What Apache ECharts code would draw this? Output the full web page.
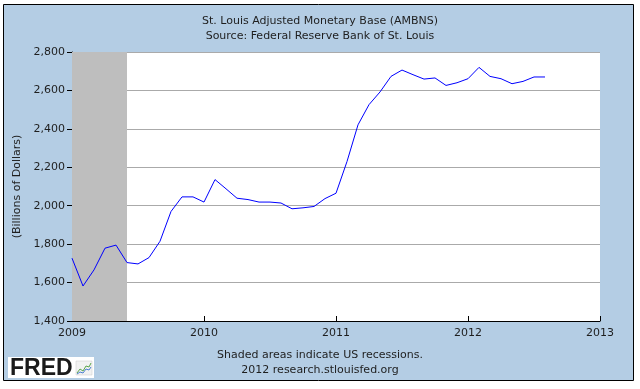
<!DOCTYPE html>
<html>
<head>
<meta charset="utf-8">
<script src="https://cdn.jsdelivr.net/npm/echarts@6/dist/echarts.min.js"></script>
<style>
html,body{margin:0;padding:0;background:#fff;}
#c{width:640px;height:389px;}
</style>
</head>
<body>
<div id="c"></div>
<script>
// Monthly observations (Billions of Dollars)
const months = [
  '2009-01','2009-02','2009-03','2009-04','2009-05','2009-06','2009-07','2009-08','2009-09','2009-10','2009-11','2009-12',
  '2010-01','2010-02','2010-03','2010-04','2010-05','2010-06','2010-07','2010-08','2010-09','2010-10','2010-11','2010-12',
  '2011-01','2011-02','2011-03','2011-04','2011-05','2011-06','2011-07','2011-08','2011-09','2011-10','2011-11','2011-12',
  '2012-01','2012-02','2012-03','2012-04','2012-05','2012-06','2012-07','2012-08'
];
const ambns = [
  1727,1582,1666,1779,1795,1704,1697,1730,1815,1970,2046,2046,
  2019,2136,2088,2039,2032,2019,2019,2014,1984,1989,1996,2037,
  2065,2230,2421,2526,2592,2673,2706,2682,2659,2665,2626,2640,
  2661,2720,2673,2661,2635,2647,2670,2670
];
const recessionStart = '2009-01';
const recessionEnd = '2009-06';
const yearTicks = [2009, 2010, 2011, 2012, 2013];
const yTicks = [1400, 1600, 1800, 2000, 2200, 2400, 2600, 2800];

function toYear(m) {
  const [y, mo] = m.split('-').map(Number);
  return y + (mo - 1) / 12;
}
const seriesData = months.map((m, i) => [toYear(m), ambns[i]]);

const FONT = 'DejaVu Sans';
const TXT = '#1e1e1e';
const chart = echarts.init(document.getElementById('c'), null, {renderer: 'canvas'});
chart.setOption({
  animation: false,
  backgroundColor: '#ffffff',
  title: {
    text: 'St. Louis Adjusted Monetary Base (AMBNS)\nSource: Federal Reserve Bank of St. Louis',
    left: 'center',
    top: 9,
    textStyle: {fontFamily: FONT, fontSize: 11, fontWeight: 'normal', color: TXT, lineHeight: 15}
  },
  graphic: [
    {type: 'rect', z: -100, silent: true,
     shape: {x: 3.5, y: 4.5, width: 630, height: 376},
     style: {fill: '#b4cde4', stroke: '#000', lineWidth: 1}},
    {type: 'text', left: 'center', top: 348, silent: true,
     style: {text: 'Shaded areas indicate US recessions.\n2012 research.stlouisfed.org',
             font: '11px ' + FONT, fill: TXT, textAlign: 'center', lineHeight: 15}},
    {type: 'group', left: 8, top: 357, silent: true, children: [
      {type: 'rect', shape: {x: 0, y: 0, width: 86, height: 21}, style: {fill: '#fff'}},
      {type: 'text', x: 2, y: 0, style: {text: 'FRED', font: 'bold 23px "Liberation Sans"', fill: '#1a1a1a', textVerticalAlign: 'top'}},
      {type: 'rect', shape: {x: 68, y: 4, width: 16, height: 14}, style: {fill: '#f2f2f2', stroke: '#c8c8c8', lineWidth: 0.5}},
      {type: 'polyline', shape: {points: [[69,16],[72,12],[75,14],[78,9],[81,10],[83,6]]}, style: {stroke: '#5aa64a', lineWidth: 1, fill: null}},
      {type: 'polyline', shape: {points: [[69,17],[72,15],[75,16],[78,12],[81,13],[83,10]]}, style: {stroke: '#4a7fd0', lineWidth: 1, fill: null}}
    ]}
  ],
  grid: {left: 72, right: 40, top: 52, bottom: 68, show: true, backgroundColor: '#ffffff', borderWidth: 0},
  xAxis: {
    type: 'value', min: yearTicks[0], max: yearTicks[yearTicks.length - 1], interval: 1,
    axisLine: {lineStyle: {color: '#000', width: 1}},
    axisTick: {inside: true, length: 5, lineStyle: {color: '#000'}},
    axisLabel: {fontFamily: FONT, fontSize: 11, color: TXT, margin: 7, formatter: v => String(v)},
    splitLine: {show: false}
  },
  yAxis: {
    type: 'value', min: yTicks[0], max: yTicks[yTicks.length - 1], interval: 200,
    name: '(Billions of Dollars)', nameLocation: 'middle', nameGap: 47, nameRotate: 90,
    nameTextStyle: {fontFamily: FONT, fontSize: 11, color: TXT},
    axisLine: {show: true, lineStyle: {color: '#000', width: 1}},
    axisTick: {show: true, length: 5, lineStyle: {color: '#000'}},
    axisLabel: {fontFamily: FONT, fontSize: 11, color: TXT, margin: 7,
                formatter: v => v.toLocaleString('en-US')},
    splitLine: {show: true, lineStyle: {color: '#aaaaaa', width: 1}}
  },
  series: [{
    type: 'line',
    data: seriesData,
    showSymbol: false,
    lineStyle: {color: '#0000ff', width: 1},
    itemStyle: {color: '#0000ff'},
    markArea: {
      silent: true,
      itemStyle: {color: '#bebebe', opacity: 1},
      data: [[{xAxis: toYear(recessionStart)}, {xAxis: toYear(recessionEnd)}]]
    }
  }]
});
</script>
</body>
</html>
